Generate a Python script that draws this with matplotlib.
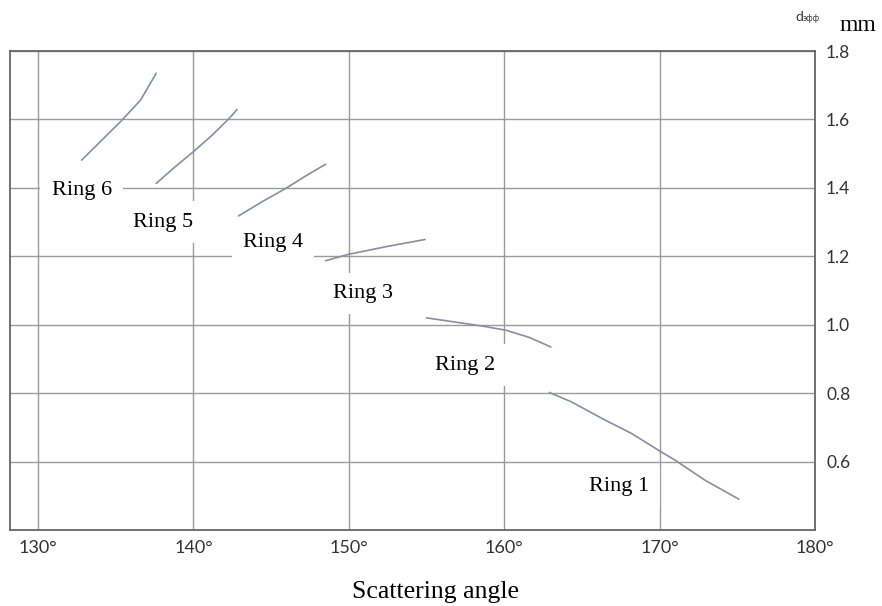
import matplotlib
matplotlib.use("Agg")
import matplotlib.pyplot as plt

# data (scattering angle in degrees, d_eff in mm)
ring1_x = [162.9, 164.3, 166.5, 168.2, 170.0, 171.0, 172.9, 175.1]
ring1_y = [0.802, 0.775, 0.721, 0.682, 0.631, 0.604, 0.546, 0.490]
ring2_x = [155.0, 158.6, 160.1, 161.6, 163.0]
ring2_y = [1.020, 0.996, 0.984, 0.963, 0.935]
ring3_x = [148.5, 150.0, 152.6, 154.9]
ring3_y = [1.187, 1.206, 1.230, 1.249]
ring4_x = [142.9, 144.4, 146.0, 147.3, 148.5]
ring4_y = [1.318, 1.359, 1.400, 1.437, 1.469]
ring5_x = [137.6, 138.7, 140.0, 141.2, 142.3, 142.8]
ring5_y = [1.413, 1.457, 1.506, 1.554, 1.603, 1.629]
ring6_x = [132.8, 134.0, 135.4, 136.6, 137.6]
ring6_y = [1.481, 1.535, 1.598, 1.657, 1.735]

ring_labels = ["Ring 1", "Ring 2", "Ring 3", "Ring 4", "Ring 5", "Ring 6"]
label_pos = [(167.4, 0.528), (157.5, 0.882), (150.9, 1.092),
             (145.1, 1.241), (138.06, 1.300), (132.8, 1.392)]

x_ticks = [130, 140, 150, 160, 170, 180]
y_ticks = [0.6, 0.8, 1.0, 1.2, 1.4, 1.6, 1.8]

fig = plt.figure(figsize=(8.82, 6.06), dpi=100)
ax = fig.add_axes([10/882, 1-530/606, (815-10)/882, (530-51)/606])

ax.set_xlim(128.19, 180)
ax.set_ylim(0.4, 1.8)
ax.set_xticks(x_ticks)
ax.set_yticks(y_ticks)
ax.set_xticklabels([f"{t}\u00b0" for t in x_ticks], family='Lato', fontsize=13, color='#333333')
ax.set_yticklabels([f"{t:.1f}" for t in y_ticks], family='Lato', fontsize=12.5, color='#333333')
ax.yaxis.tick_right()
ax.tick_params(axis='x', length=0, pad=7)
ax.tick_params(axis='y', length=0, pad=8)
ax.grid(True, color='#9a9a9a', linewidth=1.0)
ax.set_axisbelow(True)
for s in ax.spines.values():
    s.set_color('#666666')
    s.set_linewidth(1.3)

line_color = '#8a8ca2'
for xs, ys in [(ring1_x, ring1_y), (ring2_x, ring2_y), (ring3_x, ring3_y),
               (ring4_x, ring4_y), (ring5_x, ring5_y), (ring6_x, ring6_y)]:
    ax.plot(xs, ys, color=line_color, linewidth=1.2, zorder=3,
            solid_joinstyle='round', solid_capstyle='round')

for lab, (lx, ly) in zip(ring_labels, label_pos):
    ax.text(lx, ly, lab, family='Liberation Serif', fontsize=16, ha='center', va='center',
            bbox=dict(facecolor='white', edgecolor='none', pad=8), zorder=4)

fig.text(435/882, 1-592/606, "Scattering angle", family='Liberation Serif', fontsize=18.5,
         ha='center', va='center')
fig.text(795/882, 1-21/606, "d", family='Lato', fontsize=10, ha='left', va='baseline', color='#333333')
fig.text(803/882, 1-21/606, "эфф", family='DejaVu Sans', fontsize=5.5, ha='left', va='baseline', color='#333333')
fig.text(840/882, 1-31/606, "mm", family='Liberation Serif', fontsize=17, ha='left', va='baseline')

fig.savefig("out.png", dpi=100, facecolor='white')
